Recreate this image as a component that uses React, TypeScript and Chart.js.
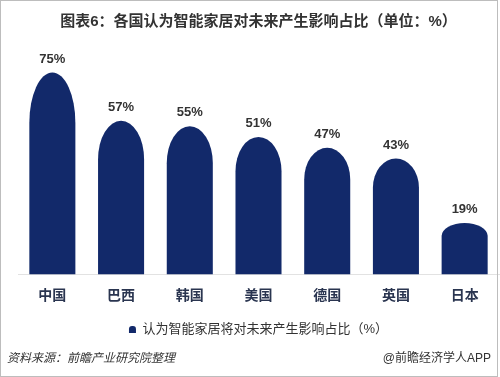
import React, { useEffect, useRef } from "react";
import { Chart, registerables } from "chart.js";

Chart.register(...registerables);

const categories = ["中国", "巴西", "韩国", "美国", "德国", "英国", "日本"];
const values = [75, 57, 55, 51, 47, 43, 19];
const seriesName = "认为智能家居将对未来产生影响占比（%）";
const titleText = "图表6：各国认为智能家居对未来产生影响占比（单位：%）";
const sourceText = "资料来源：前瞻产业研究院整理";
const brandText = "@前瞻经济学人APP";

const BAR_COLOR = "#12296a";
const FONT = '"Liberation Sans", "Noto Sans CJK SC", sans-serif';

const bulletBars = {
  id: "bulletBars",
  beforeDatasetsDraw(chart: any) {
    const ctx = chart.ctx;
    const meta = chart.getDatasetMeta(0);
    ctx.save();
    meta.data.forEach((el: any, i: number) => {
      const { x, y, base, width } = el.getProps(["x", "y", "base", "width"], true);
      const h = base - y;
      const rx = width / 2;
      const ry = h * 0.25;
      ctx.beginPath();
      ctx.moveTo(x - rx, base);
      ctx.lineTo(x - rx, y + ry);
      ctx.ellipse(x, y + ry, rx, ry, 0, Math.PI, Math.PI * 2);
      ctx.lineTo(x + rx, base);
      ctx.closePath();
      ctx.fillStyle = BAR_COLOR;
      ctx.fill();
      ctx.fillStyle = "#333333";
      ctx.font = `bold 13px ${FONT}`;
      ctx.textAlign = "center";
      ctx.textBaseline = "middle";
      ctx.fillText(values[i] + "%", x, y - 13.5);
    });
    ctx.restore();
    return false;
  },
};

export default function App() {
  const ref = useRef<HTMLCanvasElement | null>(null);
  useEffect(() => {
    if (!ref.current) return;
    const chart = new Chart(ref.current, {
      type: "bar",
      data: {
        labels: categories,
        datasets: [
          {
            label: seriesName,
            data: values,
            backgroundColor: BAR_COLOR,
            barPercentage: 0.67,
            categoryPercentage: 1,
          },
        ],
      },
      options: {
        responsive: false,
        animation: false,
        layout: { padding: { left: 18, right: 1, top: 0, bottom: 31 } },
        scales: {
          x: {
            grid: { display: false },
            border: { display: true, color: "#e2e2e2", width: 1 },
            ticks: {
              padding: 6,
              color: "#2a3550",
              font: { family: FONT, size: 14, weight: "bold" },
            },
          },
          y: { display: false, min: 0, max: 80 },
        },
        plugins: {
          title: {
            display: true,
            text: titleText,
            color: "#333333",
            font: { family: FONT, size: 15, weight: "bold" },
            padding: { top: 13, bottom: 28 },
          },
          legend: {
            display: true,
            position: "bottom",
            labels: {
              boxWidth: 7,
              boxHeight: 7,
              padding: 12,
              color: "#333333",
              useBorderRadius: true,
              borderRadius: { topLeft: 3, topRight: 3, bottomLeft: 0, bottomRight: 0 } as any,
              font: { family: FONT, size: 13 },
            },
          },
          tooltip: { enabled: false },
        },
      },
      plugins: [bulletBars],
    });
    return () => chart.destroy();
  }, []);

  return (
    <div style={{ position: "absolute", left: 0, top: 0, width: 500, height: 377, background: "#fff", overflow: "hidden" }}>
      <canvas ref={ref} width={500} height={377} style={{ display: "block" }} />
      <div
        style={{
          position: "absolute",
          left: 7,
          top: 349,
          fontFamily: FONT,
          fontSize: 12,
          fontStyle: "italic",
          color: "#333",
          lineHeight: "18px",
          whiteSpace: "nowrap",
        }}
      >
        {sourceText}
      </div>
      <div
        style={{
          position: "absolute",
          right: 9,
          top: 349,
          fontFamily: FONT,
          fontSize: 12,
          color: "#333",
          lineHeight: "18px",
          whiteSpace: "nowrap",
        }}
      >
        {brandText}
      </div>
      <div
        style={{
          position: "absolute",
          left: 0,
          top: 0,
          width: 498,
          height: 377,
          border: "1px solid #bdbdbd",
          boxSizing: "border-box",
          pointerEvents: "none",
        }}
      />
    </div>
  );
}
